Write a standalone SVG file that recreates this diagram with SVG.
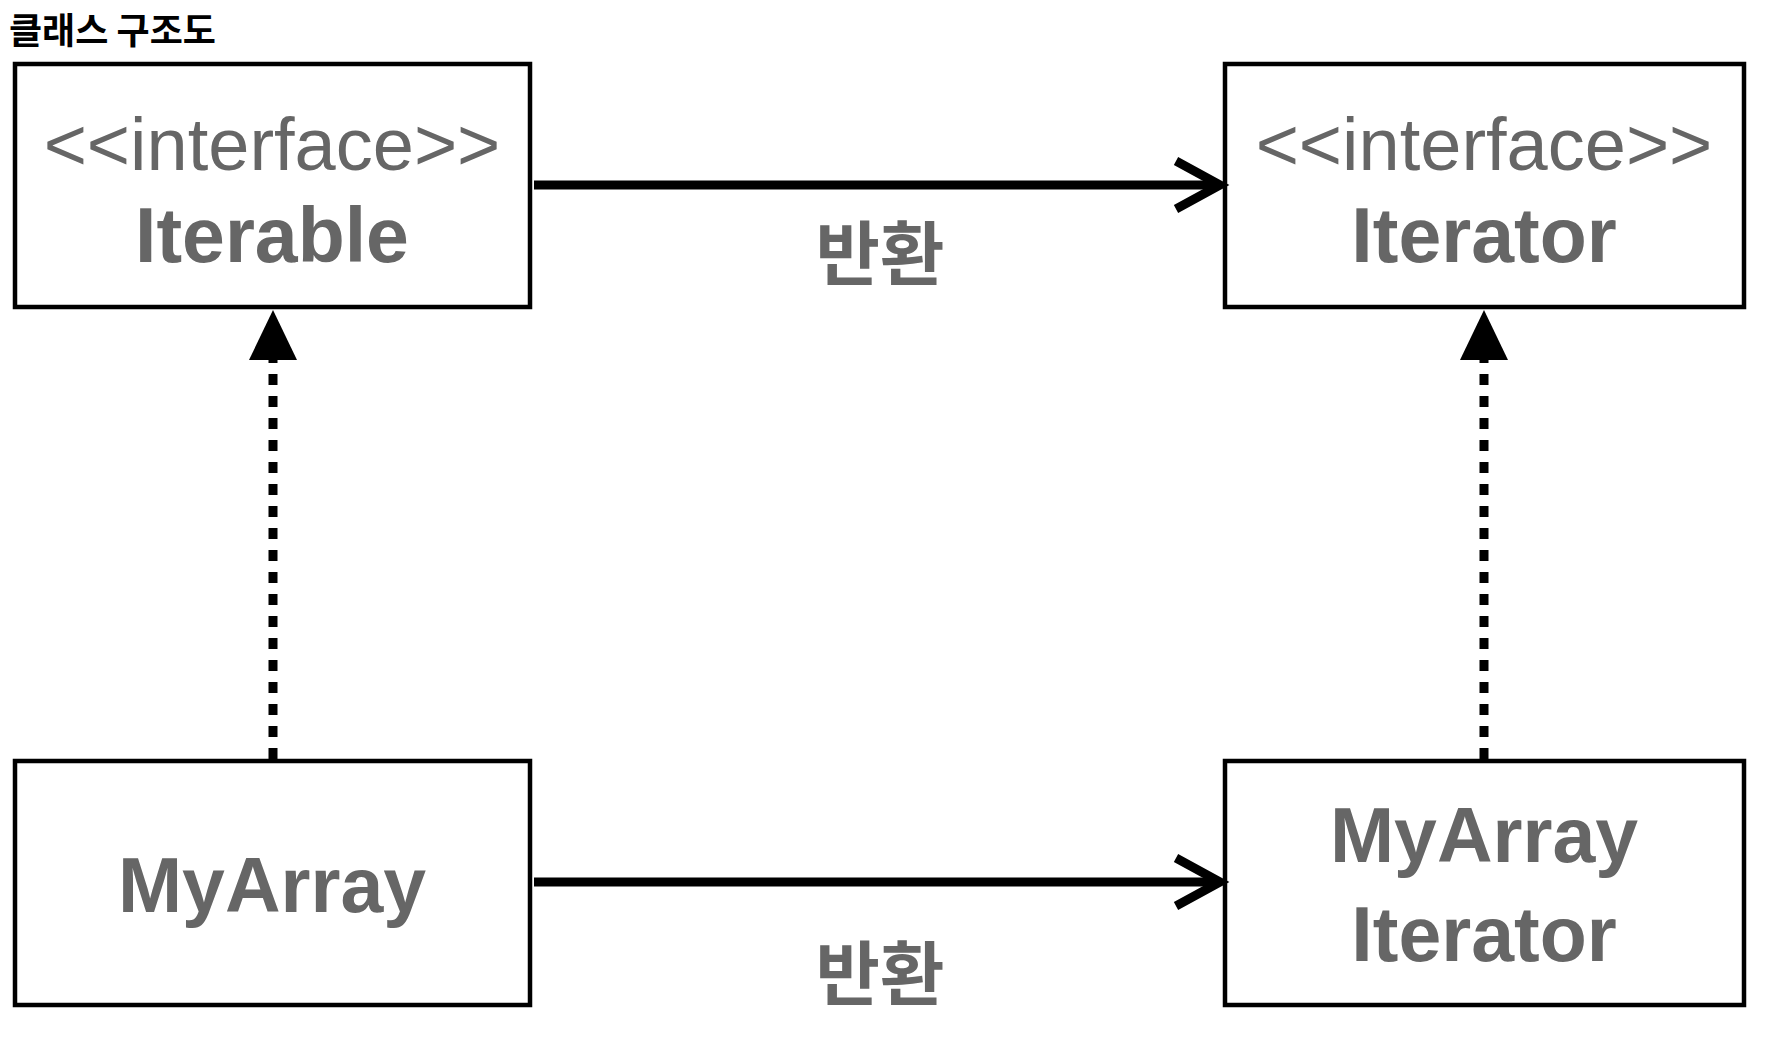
<svg xmlns="http://www.w3.org/2000/svg" width="1779" height="1053" viewBox="0 0 1779 1053">
<style>
.box{fill:#fff;stroke:#000;stroke-width:4.5}
.t{font-family:"Liberation Sans","Noto Sans CJK KR",sans-serif;fill:#666;text-anchor:middle}
.s{font-size:74px}
.b{font-size:77px;font-weight:bold}
.k{font-family:"Noto Sans CJK KR",sans-serif;font-weight:bold;font-size:70px;fill:#666;text-anchor:middle}
.ln{stroke:#000;stroke-width:9;fill:none}
</style>
<rect width="1779" height="1053" fill="#fff"/>
<text x="9" y="44" font-family="Noto Sans CJK KR,sans-serif" font-weight="bold" font-size="36" fill="#000">클래스 구조도</text>
<g id="iterable"><rect class="box" x="15" y="64" width="515" height="243"/>
<text class="t s" x="272" y="170">&lt;&lt;interface&gt;&gt;</text><text class="t b" x="272" y="262">Iterable</text></g>
<g id="iterator"><rect class="box" x="1225" y="64" width="519" height="243"/>
<text class="t s" x="1484" y="170">&lt;&lt;interface&gt;&gt;</text><text class="t b" x="1484" y="262">Iterator</text></g>
<g id="myarray"><rect class="box" x="15" y="761" width="515" height="244"/>
<text class="t b" x="272" y="912">MyArray</text></g>
<g id="myarrayiterator"><rect class="box" x="1225" y="761" width="519" height="244"/>
<text class="t b" x="1484" y="862">MyArray</text><text class="t b" x="1484" y="961">Iterator</text></g>
<g id="connectors">
<line class="ln" x1="534" y1="185" x2="1220" y2="185"/>
<polyline class="ln" points="1176,161 1220,185 1176,209"/>
<line class="ln" x1="534" y1="882" x2="1220" y2="882"/>
<polyline class="ln" points="1176,858 1220,882 1176,906"/>
<line class="ln" x1="273" y1="759" x2="273" y2="356" stroke-dasharray="11,11"/>
<polygon points="273,310 249,360 297,360" fill="#000"/>
<line class="ln" x1="1484" y1="759" x2="1484" y2="356" stroke-dasharray="11,11"/>
<polygon points="1484,310 1460,360 1508,360" fill="#000"/>
<text class="k" x="880" y="280">반환</text>
<text class="k" x="880" y="1000">반환</text>
</g>
</svg>
